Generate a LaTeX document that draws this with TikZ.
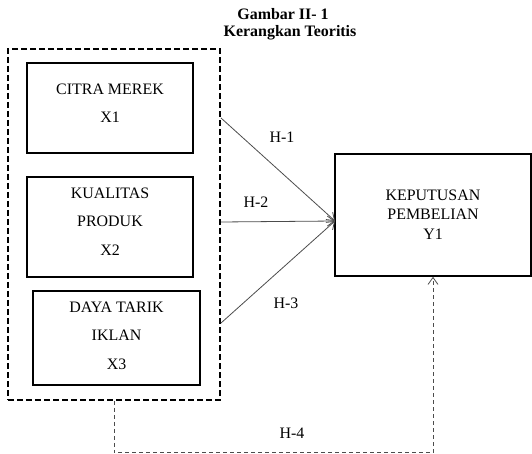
\documentclass[tikz,border=0pt]{standalone}
\usepackage{fontspec}
\setmainfont{Liberation Serif}
\usetikzlibrary{arrows.meta, positioning}

\begin{document}
\begin{tikzpicture}[x=1bp,y=-1bp,
    every node/.style={font=\fontsize{16}{29}\selectfont}]
  \tikzstyle{varbox}=[draw,line width=1.6bp,inner sep=0pt]
  \tikzstyle{grpbox}=[draw,line width=1.6bp,dash pattern=on 6bp off 3bp,inner sep=0pt,minimum width=212bp,minimum height=351bp]
  \tikzstyle{hyp}=[draw=black!70,line width=0.8bp,-{Straight Barb[length=7bp,width=10bp]}]
  \tikzstyle{hypdash}=[draw=black!70,line width=0.8bp,dash pattern=on 4bp off 3bp,-{Straight Barb[length=7bp,width=10bp]}]
  \useasboundingbox (0,0) rectangle (532,454);

  % Title
  \node[font=\fontsize{16}{19}\selectfont\bfseries] (ttl1) at (283,14) {Gambar II- 1};
  \node[font=\fontsize{16}{19}\selectfont\bfseries] (ttl2) at (290,33) {Kerangkan Teoritis};

  % Boxes
  \node[grpbox] (grp) at (114,224.5) {};
  \node[varbox] (x1) at (110,108)
    {\parbox[c][90bp][t]{166bp}{\centering\vspace*{20.5bp}CITRA MEREK\\X1}};
  \node[varbox] (x2) at (110,227)
    {\parbox[c][100bp][t]{166bp}{\centering\vspace*{10.5bp}KUALITAS\\PRODUK\\X2}};
  \node[varbox] (x3) at (116.5,338)
    {\parbox[c][94bp][t]{167bp}{\centering\vspace*{10.5bp}DAYA TARIK\\IKLAN\\X3}};
  \node[varbox, font=\fontsize{16}{20}\selectfont] (y1) at (433,215)
    {\parbox[c][122bp][t]{196bp}{\centering\vspace*{35.5bp}KEPUTUSAN\\PEMBELIAN\\Y1}};

  % Arrows
  \coordinate (h1) at (221,118);
  \coordinate (h2) at (221,222);
  \coordinate (h3) at (221,323);
  \coordinate (yin) at (335,221);
  \draw[hyp] (h1) -- (yin);
  \draw[hyp] (h2) -- (yin);
  \draw[hyp] (h3) -- (yin);
  \draw[hypdash] (grp.south) -- ++(0,52) -| (y1.south);

  % Labels
  \node (l1) at (282,137) {H-1};
  \node (l2) at (256,202) {H-2};
  \node (l3) at (286,303) {H-3};
  \node (l4) at (292,433) {H-4};
\end{tikzpicture}
\end{document}
